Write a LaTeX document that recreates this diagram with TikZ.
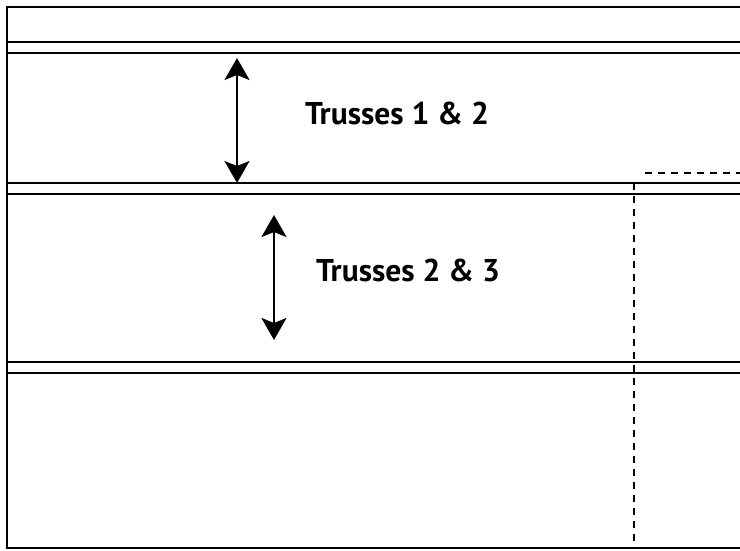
\documentclass[tikz,border=0pt]{standalone}
\usepackage{fontspec}
\setmainfont{PT Sans}
\usetikzlibrary{arrows.meta}
\begin{document}
\begin{tikzpicture}[x=1pt,y=-1pt,
  frameline/.style={line width=2.4pt},
  dimarrow/.style={line width=2.4pt,{Stealth[length=22pt,width=25pt,inset=5pt]}-{Stealth[length=22pt,width=25pt,inset=5pt]}},
  dashline/.style={line width=2.8pt,dash pattern=on 7pt off 6pt},
  label/.style={font=\fontsize{31.5}{36}\selectfont\bfseries,inner sep=0pt}]
\useasboundingbox (0,0) rectangle (740,550);
% frame
\draw[frameline] (745,7) -- (7,7) -- (7,548) -- (745,548);
% double lines
\foreach \y in {42,53,183,194,362,373}
  \draw[frameline] (7,\y) -- (745,\y);
% dashed lines
\coordinate (dvtop) at (634,183);
\coordinate (dvbot) at (634,548);
\coordinate (dhl) at (645,173);
\coordinate (dhr) at (745,173);
\draw[dashline] (dvtop) -- (dvbot);
\draw[dashline] (dhl) -- (dhr);
% arrows
\coordinate (a1t) at (237,58);
\coordinate (a1b) at (237,183);
\coordinate (a2t) at (274,215);
\coordinate (a2b) at (274,340);
\draw[dimarrow] (a1t) -- (a1b);
\draw[dimarrow] (a2t) -- (a2b);
% labels
\node[label] (t12) at (397,113) {Trusses 1 \& 2};
\node[label] (t23) at (408,270) {Trusses 2 \& 3};
\end{tikzpicture}
\end{document}
